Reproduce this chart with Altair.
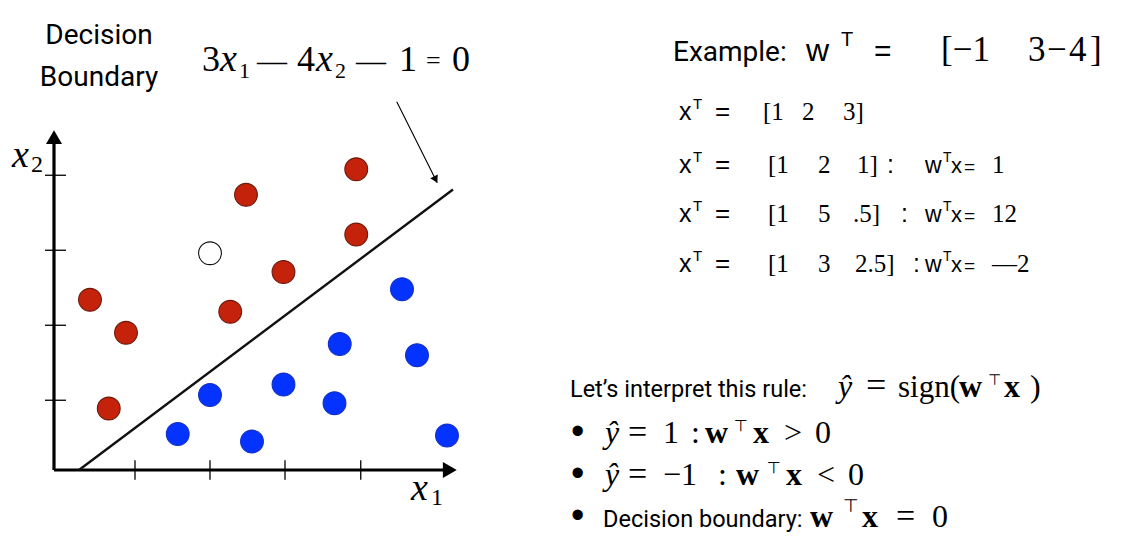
import math

import altair as alt
import pandas as pd

# ---------------------------------------------------------------------------
# Scatter data, in axis units (one unit = one tick spacing, origin at the
# corner where the two axes meet)
# ---------------------------------------------------------------------------
red_x1 = [4.03, 2.56, 4.03, 3.06, 0.48, 0.96, 2.35, 0.73]
red_x2 = [4.01, 3.67, 3.14, 2.64, 2.27, 1.83, 2.11, 0.82]

blue_x1 = [4.64, 3.81, 4.84, 3.06, 2.08, 3.74, 1.65, 2.64, 5.24]
blue_x2 = [2.41, 1.68, 1.53, 1.14, 1.00, 0.89, 0.48, 0.38, 0.46]

open_x1 = [2.08]
open_x2 = [2.89]

# decision boundary  3*x1 - 4*x2 - 1 = 0
boundary_coef = [3, -4, -1]
boundary_x1_end = 5.32

# unlabeled tick positions along each axis
x_ticks = [1.08, 2.08, 3.08, 4.09]
y_ticks = [0.93, 1.93, 2.93, 3.93]

# axis extents and the pointer arrow
x_axis_end = 5.37
y_axis_end = 4.53
pointer_start = (4.57, 4.91)
pointer_tip = (5.11, 3.83)

# ---------------------------------------------------------------------------
W, H = 1134, 550
X_DOM = [-0.72, 14.4]
Y_DOM = [-1.0667, 6.2667]
PX = W / (X_DOM[1] - X_DOM[0])      # pixels per x unit
PY = H / (Y_DOM[1] - Y_DOM[0])      # pixels per y unit

SERIF = "Liberation Serif"
SANS = "Liberation Sans"
ROBOTO = "Roboto"
TACK = "DejaVu Sans"


def X(field, **kw):
    return alt.X(field, type="quantitative", axis=None,
                 scale=alt.Scale(domain=X_DOM, nice=False, zero=False), **kw)


def Y(field, **kw):
    return alt.Y(field, type="quantitative", axis=None,
                 scale=alt.Scale(domain=Y_DOM, nice=False, zero=False), **kw)


def segments(rows, width, color="black"):
    df = pd.DataFrame(rows, columns=["a", "b", "a2", "b2"])
    return alt.Chart(df).mark_rule(strokeWidth=width, color=color).encode(
        x=X("a"), y=Y("b"), x2="a2", y2="b2")


def head(x, y, size, angle):
    """Filled triangle whose tip sits at (x, y), pointing along `angle`."""
    h = math.sqrt(size) / 2 * math.sqrt(3) / 2
    a = math.radians(angle)
    cx = x - h * math.sin(a) / PX
    cy = y - h * math.cos(a) / PY
    df = pd.DataFrame({"a": [cx], "b": [cy]})
    return alt.Chart(df).mark_point(
        shape="triangle-up", filled=True, size=size, angle=angle,
        color="black", opacity=1, strokeWidth=0).encode(x=X("a"), y=Y("b"))


_one = pd.DataFrame({"k": [0]})


def label(s, x, y, size, font=SERIF, style="normal", weight="normal",
          align="left"):
    return alt.Chart(_one).mark_text(
        text=s, font=font, fontSize=size, fontStyle=style, fontWeight=weight,
        align=align, baseline="alphabetic", color="black").encode(
        x=alt.value(x), y=alt.value(y))


layers = []

# axes, ticks
layers.append(segments([[0, 0, 0, y_axis_end - 0.08],
                        [0, 0, x_axis_end - 0.08, 0]], 3.2))
tick_rows = [[t, -0.13, t, 0.13] for t in x_ticks]
tick_rows += [[-0.12, t, 0.16, t] for t in y_ticks]
layers.append(segments(tick_rows, 1.3))
layers.append(head(0, y_axis_end, 256, 0))
layers.append(head(x_axis_end, 0, 256, 90))

# decision boundary from its equation
a1, a2, a0 = boundary_coef
x1_start = -a0 / a1
bx = [x1_start, boundary_x1_end]
by = [-(a1 * v + a0) / a2 for v in bx]
layers.append(segments([[bx[0], by[0], bx[1], by[1]]], 2.4, "#111111"))

# pointer arrow
layers.append(segments([[pointer_start[0], pointer_start[1],
                         pointer_tip[0], pointer_tip[1]]], 1.1))
dxp = (pointer_tip[0] - pointer_start[0]) * PX
dyp = -(pointer_tip[1] - pointer_start[1]) * PY
ang = math.degrees(math.atan2(dxp, -dyp)) % 360
layers.append(head(pointer_tip[0], pointer_tip[1], 70, ang))

# points
pts = pd.concat([
    pd.DataFrame({"x1": red_x1, "x2": red_x2, "cls": "pos"}),
    pd.DataFrame({"x1": blue_x1, "x2": blue_x2, "cls": "neg"}),
    pd.DataFrame({"x1": open_x1, "x2": open_x2, "cls": "new"}),
])
layers.append(alt.Chart(pts).mark_point(
    shape="circle", filled=True, size=520, opacity=1, strokeWidth=1.1).encode(
    x=X("x1"), y=Y("x2"),
    fill=alt.Fill("cls:N", legend=None, scale=alt.Scale(
        domain=["pos", "neg", "new"], range=["#C4220A", "#0433FF", "#FFFFFF"])),
    stroke=alt.Stroke("cls:N", legend=None, scale=alt.Scale(
        domain=["pos", "neg", "new"], range=["#6B1A0C", "#1230C8", "#111111"])),
))

# ---------------------------------------------------------------------------
# left-hand text
layers += [
    label("Decision", 99, 44, 28, ROBOTO, align="center"),
    label("Boundary", 99, 86, 28, ROBOTO, align="center"),
    # 3x1 — 4x2 — 1 = 0
    label("3", 202, 71, 36),
    label("x", 220, 71, 38, style="italic"),
    label("1", 239, 78, 22),
    label("—", 257, 71, 30),
    label("4", 297, 71, 36),
    label("x", 316, 71, 38, style="italic"),
    label("2", 335, 78, 22),
    label("—", 356, 71, 30),
    label("1", 399, 71, 36),
    label("=", 426, 69, 26),
    label("0", 452, 71, 36),
    # axis names
    label("x", 12, 167, 38, style="italic"),
    label("2", 31, 172, 24),
    label("x", 411, 500, 38, style="italic"),
    label("1", 431, 505, 24),
]

# ---------------------------------------------------------------------------
# worked example
layers += [
    label("Example:", 673, 61, 28, ROBOTO),
    label("w", 806, 61, 32, SANS),
    label("T", 841, 46, 20, SANS),
    label("=", 874, 61, 30, SANS),
    label("[\u22121", 941, 61, 35),
    label("3", 1028, 61, 35),
    label("\u2212", 1047, 61, 35),
    label("4", 1069, 61, 35),
    label("]", 1090, 61, 35),
]

rows = [
    (120, ["[1", "2", "3]"], [763, 802, 843], None),
    (173, ["[1", "2", "1]"], [768, 818, 857], (887, "1")),
    (222, ["[1", "5", ".5]"], [768, 818, 853], (901, "12")),
    (272, ["[1", "3", "2.5]"], [768, 818, 855], (913, "\u20142")),
]
for base, vals, xs, rhs in rows:
    layers += [
        label("x", 679, base, 25, SANS),
        label("T", 693, base - 11, 15, SANS),
        label("=", 715, base, 26, SANS),
    ]
    for v, xv in zip(vals, xs):
        layers.append(label(v, xv, base, 25))
    if rhs is not None:
        cx, res = rhs
        layers += [
            label(":", cx, base, 25, SANS),
            label("w", 925, base, 23, SANS),
            label("T", 943, base - 11, 14, SANS),
            label("x", 951, base, 22, SANS),
            label("=", 964, base, 19, SANS),
            label(res, 992, base, 25),
        ]

# ---------------------------------------------------------------------------
# interpretation of the sign rule
MS = 32   # math size
layers += [
    label("Let\u2019s interpret this rule:", 570, 397, 23.5, ROBOTO),
    label("\u0177", 838, 397, MS, style="italic"),
    label("=", 866, 397, 36),
    label("sign(", 898, 397, 31),
    label("w", 959, 397, MS, weight="bold"),
    label("\u22a4", 988, 385, 15, TACK),
    label("x", 1004, 397, MS, weight="bold"),
    label(")", 1030, 397, MS),
]

bullets = [
    (443, [("\u0177", 605, "italic", "normal"), ("=", 628, "normal", "normal"),
           ("1", 663, "normal", "normal"), (":", 691, "normal", "normal"),
           ("w", 705, "normal", "bold"), ("x", 753, "normal", "bold"),
           (">", 784, "normal", "normal"), ("0", 815, "normal", "normal")],
     734),
    (485, [("\u0177", 605, "italic", "normal"), ("=", 628, "normal", "normal"),
           ("\u22121", 663, "normal", "normal"), (":", 718, "normal", "normal"),
           ("w", 736, "normal", "bold"), ("x", 786, "normal", "bold"),
           ("<", 817, "normal", "normal"), ("0", 848, "normal", "normal")],
     767),
]
for base, parts, tx in bullets:
    layers.append(label("\u2022", 571, base + 1, 38, SANS))
    for s, xv, st, wt in parts:
        layers.append(label(s, xv, base, MS + 2 if s == "=" else MS,
                            style=st, weight=wt))
    layers.append(label("\u22a4", tx, base - 12, 16, TACK))

layers += [
    label("\u2022", 571, 528, 38, SANS),
    label("Decision boundary:", 603, 527, 23.5, ROBOTO),
    label("w", 810, 527, MS, weight="bold"),
    label("\u22a4", 843, 512, 18, TACK),
    label("x", 862, 527, MS, weight="bold"),
    label("=", 896, 527, MS + 2),
    label("0", 932, 527, MS),
]

chart = alt.layer(*layers).properties(
    width=W, height=H, padding=0, autosize="none", background="white"
).configure_view(stroke=None)

chart.save("out.html", embed_options={"renderer": "svg", "actions": False})
